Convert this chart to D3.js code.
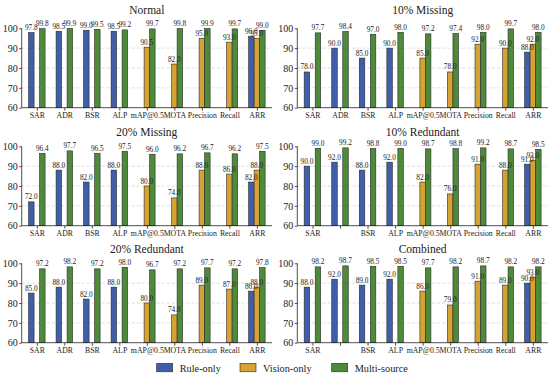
<!DOCTYPE html>
<html>
<head>
<meta charset="utf-8">
<script src="https://cdn.jsdelivr.net/npm/d3@7"></script>
<style>
  body { margin: 0; background: #fff; }
</style>
</head>
<body>
<svg id="chart" width="550" height="378"></svg>
<script>
// categories and series (null = method not applicable)
const categories = ['SAR', 'ADR', 'BSR', 'ALP', 'mAP@0.5', 'MOTA', 'Precision', 'Recall', 'ARR'];
const series = ['Rule-only', 'Vision-only', 'Multi-source'];
const panelTitles = ['Normal', '10% Missing', '20% Missing', '10% Redundant', '20% Redundant', 'Combined'];
const yTicks = [60, 70, 80, 90, 100];

const normalRule   = [97.8, 98.5, 99.0, 98.5, null, null, null, null, 96.0];
const normalVision = [null, null, null, null, 90.5, 82.0, 95.0, 93.0, 95.0];
const normalMulti  = [99.8, 99.9, 99.5, 99.2, 99.7, 99.8, 99.9, 99.7, 99.0];

const miss10Rule   = [78.0, 90.0, 85.0, 90.0, null, null, null, null, 88.0];
const miss10Vision = [null, null, null, null, 85.0, 78.0, 92.0, 90.0, 92.0];
const miss10Multi  = [97.7, 98.4, 97.0, 98.0, 97.2, 97.4, 98.0, 99.7, 98.0];

const miss20Rule   = [72.0, 88.0, 82.0, 88.0, null, null, null, null, 82.0];
const miss20Vision = [null, null, null, null, 80.0, 74.0, 88.0, 86.0, 88.0];
const miss20Multi  = [96.4, 97.7, 96.5, 97.5, 96.0, 96.2, 96.7, 96.2, 97.5];

const red10Rule    = [90.0, 92.0, 88.0, 92.0, null, null, null, null, 91.0];
const red10Vision  = [null, null, null, null, 82.0, 76.0, 91.0, 88.0, 93.0];
const red10Multi   = [99.0, 99.2, 98.8, 99.0, 98.7, 98.8, 99.2, 98.7, 98.5];

const red20Rule    = [85.0, 88.0, 82.0, 88.0, null, null, null, null, 86.0];
const red20Vision  = [null, null, null, null, 80.0, 74.0, 89.0, 87.0, 88.0];
const red20Multi   = [97.2, 98.2, 97.2, 98.0, 96.7, 97.2, 97.7, 97.2, 97.8];

const combRule     = [88.0, 92.0, 89.0, 92.0, null, null, null, null, 90.0];
const combVision   = [null, null, null, null, 86.0, 79.0, 91.0, 89.0, 93.0];
const combMulti    = [98.2, 98.7, 98.5, 98.5, 97.7, 98.2, 98.7, 98.2, 98.2];

// x tick labels (the ADR label is absent in two panels of the original)
const tickLabelsAll   = categories;
const tickLabelsNoADR = ['SAR', '', 'BSR', 'ALP', 'mAP@0.5', 'MOTA', 'Precision', 'Recall', 'ARR'];

const panels = [
  { title: panelTitles[0], vals: [normalRule, normalVision, normalMulti], labels: tickLabelsAll },
  { title: panelTitles[1], vals: [miss10Rule, miss10Vision, miss10Multi], labels: tickLabelsAll },
  { title: panelTitles[2], vals: [miss20Rule, miss20Vision, miss20Multi], labels: tickLabelsAll },
  { title: panelTitles[3], vals: [red10Rule, red10Vision, red10Multi], labels: tickLabelsNoADR },
  { title: panelTitles[4], vals: [red20Rule, red20Vision, red20Multi], labels: tickLabelsAll },
  { title: panelTitles[5], vals: [combRule, combVision, combMulti], labels: tickLabelsNoADR },
];

const colors = ['#3f5eab', '#d6a233', '#4d8b3a'];
const barW = 0.2;
const FONT = 'Liberation Serif';

const svg = d3.select('#chart');
svg.append('rect').attr('width', 550).attr('height', 378).attr('fill', '#fff');

const colX = [[21.7, 272], [297.3, 548]];
const rowTop = [28.3, 146.3, 263.3];
const plotH = 79.4;
const titleY = [14, 136.3, 253.3];

panels.forEach((p, i) => {
  const col = i % 2, row = Math.floor(i / 2);
  const [x0, x1] = colX[col];
  const top = rowTop[row], bottom = top + plotH;

  const x = d3.scaleLinear().domain([-0.55, categories.length - 1 + 0.55]).range([x0, x1]);
  const y = d3.scaleLinear().domain([60, 100]).range([bottom, top]);

  const g = svg.append('g');

  // grid
  g.selectAll('.grid').data([70, 80, 90]).join('line')
    .attr('x1', x0).attr('x2', x1)
    .attr('y1', d => y(d)).attr('y2', d => y(d))
    .attr('stroke', '#c8c8c8').attr('stroke-width', 0.6).attr('stroke-dasharray', '3,2');

  const pts = p.vals.map((vals, s) => vals.map((v, k) => ({ v, k, s })).filter(d => d.v != null));

  // bars first, labels on top
  pts.forEach((arr, s) => {
    const off = (s - 1) * barW;
    g.selectAll('.bar' + s).data(arr).join('rect')
      .attr('x', d => x(d.k + off - barW / 2))
      .attr('width', x(barW) - x(0))
      .attr('y', d => y(d.v))
      .attr('height', d => y(60) - y(d.v))
      .attr('fill', colors[s])
      .attr('stroke', '#2a2a2a').attr('stroke-width', 0.6);
  });
  pts.forEach((arr, s) => {
    const off = (s - 1) * barW;
    g.selectAll('.lab' + s).data(arr).join('text')
      .attr('x', d => x(d.k + off))
      .attr('y', d => y(d.v) - 2.5)
      .attr('text-anchor', 'middle')
      .attr('font-family', FONT)
      .attr('font-size', 7.3)
      .attr('fill', '#222')
      .text(d => d.v.toFixed(1));
  });

  // axes
  const yAxis = d3.axisLeft(y).tickValues(yTicks).tickSize(2.5).tickPadding(1.5);
  const ya = g.append('g').attr('transform', `translate(${x0},0)`).call(yAxis);
  ya.selectAll('text').attr('font-size', 10);

  const xAxis = d3.axisBottom(x).tickValues(d3.range(categories.length))
    .tickFormat(k => p.labels[k]).tickSize(3).tickPadding(2);
  const xa = g.append('g').attr('transform', `translate(0,${bottom})`).call(xAxis);
  xa.selectAll('text').attr('font-size', 7.8);

  [ya, xa].forEach(a => {
    a.attr('font-family', FONT).attr('font-size', null);
    a.select('.domain').attr('stroke', '#222').attr('stroke-width', 0.8);
    a.selectAll('.tick line').attr('stroke', '#222').attr('stroke-width', 0.8);
    a.selectAll('text').attr('fill', '#222').attr('font-family', FONT);
  });
  ya.select('.domain').attr('d', `M0,${bottom}V${top}`);
  xa.select('.domain').attr('d', `M${x0},0H${x1}`);

  g.append('text')
    .attr('x', (x0 + x1) / 2).attr('y', titleY[row])
    .attr('text-anchor', 'middle').attr('font-size', 11.5)
    .attr('font-family', FONT).attr('fill', '#222')
    .text(p.title);
});

// legend
const legX = [156.7, 240, 331.7];
const leg = svg.append('g');
series.forEach((s, i) => {
  leg.append('rect')
    .attr('x', legX[i]).attr('y', 363.3).attr('width', 16).attr('height', 8.5)
    .attr('fill', colors[i]).attr('stroke', '#2a2a2a').attr('stroke-width', 0.6);
  leg.append('text')
    .attr('x', legX[i] + 23).attr('y', 371.5)
    .attr('font-family', FONT)
    .attr('font-size', 10.3).attr('fill', '#222')
    .text(s);
});
</script>
</body>
</html>
